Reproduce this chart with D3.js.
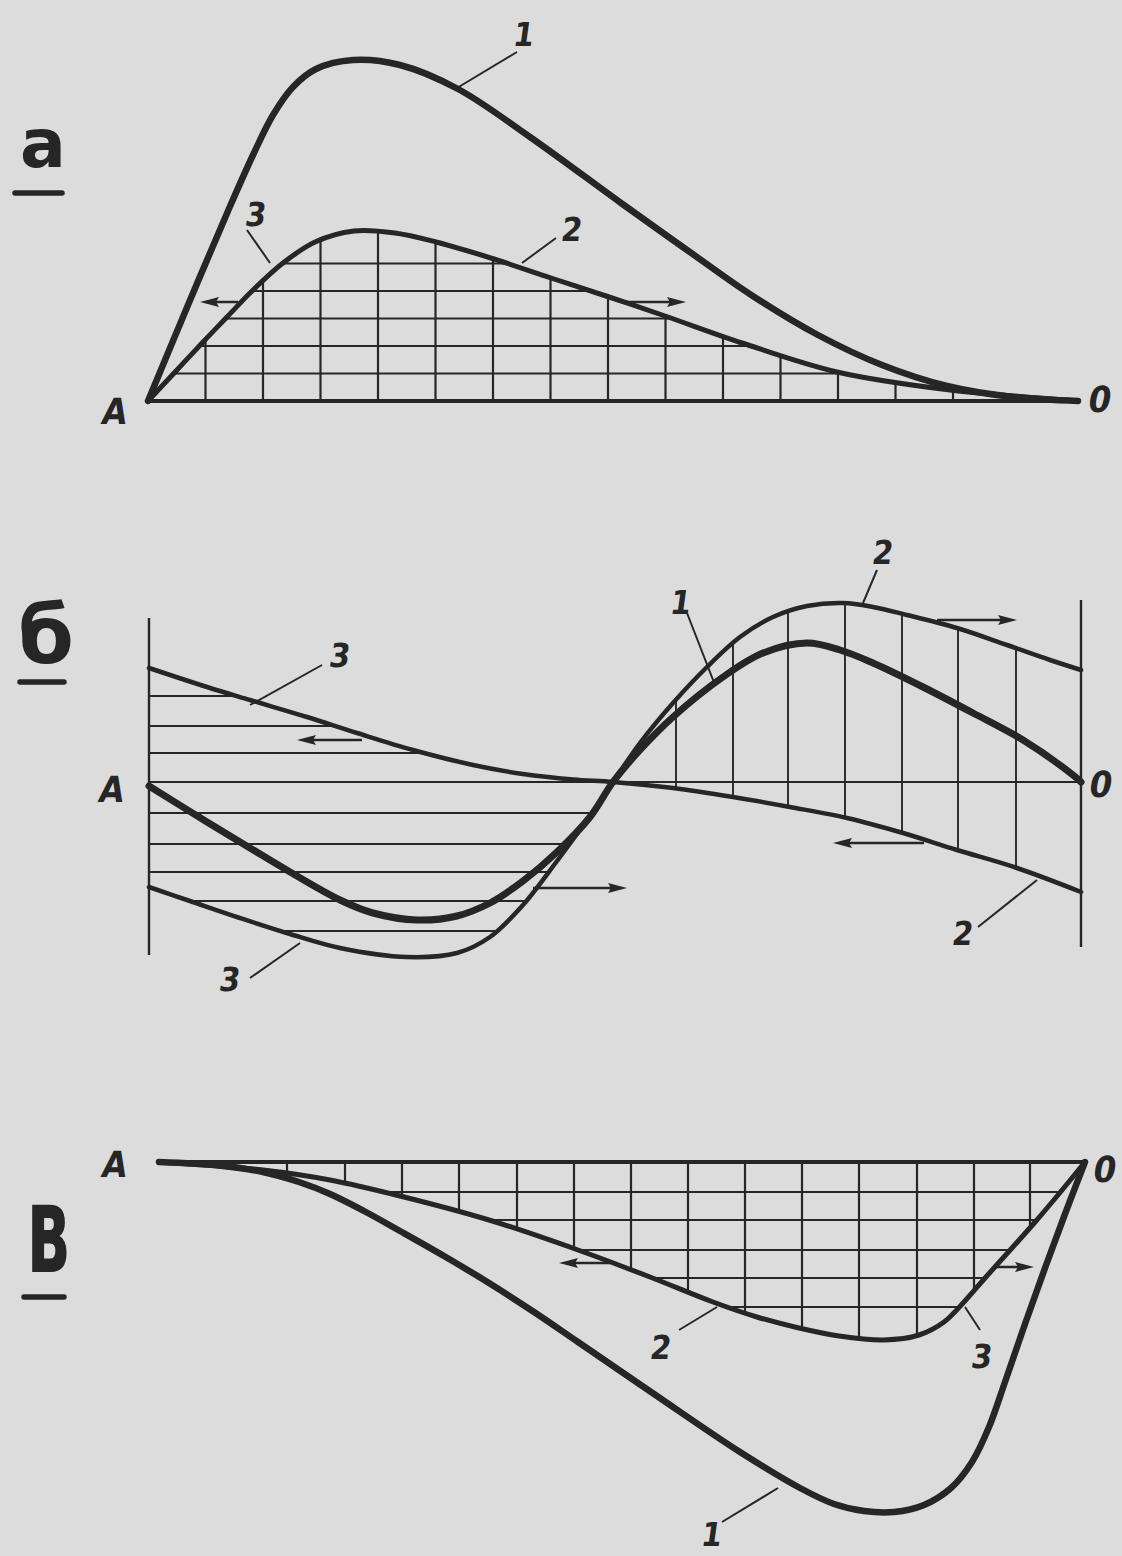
<!DOCTYPE html>
<html>
<head>
<meta charset="utf-8">
<script src="https://cdn.jsdelivr.net/npm/d3@7"></script>
<style>
  html, body { margin: 0; padding: 0; background: #dcdcdc; }
  svg { display: block; }
</style>
</head>
<body>
<div id="fig"></div>
<script>
// ---- panel а : curves as (x, y) in drawing units, A = 0, baseline = 0
const aCurve1 = [[0,0],[4,9.6],[8,19],[10.5,24.6],[12.5,28.6],[14.5,31.4],[16.8,33.2],[20.5,34.1],[25.2,33.6],
  [31.0,31.2],[38.2,26.4],[47.3,19.8],[53.9,15.1],[60.4,10.55],[66.9,6.65],[73.4,3.6],[79.9,1.5],[86.5,0.4],[93,0]];
const aCurve2 = [[0,0],[2.8,3.0],[5.6,6.0],[8.0,8.5],[10.3,10.9],[13.5,13.8],[16.7,15.9],[20.6,17.0],[24.7,16.8],
  [28.8,15.9],[34.6,14.2],[40.3,12.3],[46.1,10.4],[51.7,8.5],[59.4,5.8],[68.9,2.9],[80.2,1.1],[89.2,0.3],[93,0]];
const aGridX = [5.75,11.5,17.25,23.0,28.75,34.5,40.25,46.0,51.75,57.5,63.25,69.0,74.75,80.5];
const aGridY = [2.75,5.5,8.25,11.0,13.75];
const aArrows = [{y:9.9, from:9.0, to:5.2}, {y:9.9, from:47.7, to:53.8}];
const aLabels = [
  {t:"1", x:37.6, y:36.6, l:[36.9,34.9,30.9,31.3]},
  {t:"2", x:42.4, y:17.1, l:[40.8,16.3,37.4,13.8]},
  {t:"3", x:10.8, y:18.6, l:[9.9,17.1,12.2,13.8]}
];

// ---- panel б
const bCurveD = [[0,11.4],[5.8,9.5],[10.1,8.2],[15.8,6.5],[20.8,4.9],[26.4,3.2],[32.4,1.7],[37.4,0.8],[42.4,0.25],[46.4,0],
  [52.4,-0.6],[58.4,-1.5],[64.1,-2.5],[69.8,-3.6],[75.4,-5.1],[80.8,-6.8],[86.8,-8.6],[93.2,-11.0]];
const bCurveE = [[0,-10.5],[4.1,-11.9],[9.1,-13.6],[14.1,-15.2],[19.1,-16.6],[25.8,-17.5],[30.8,-17.1],[34.1,-15.5],
  [37.4,-12.3],[40.8,-7.9],[43.8,-3.8],[46.4,0],[49.1,3.9],[52.4,7.9],[55.8,11.5],[59.1,14.5],[62.4,16.5],[65.8,17.6],
  [69.4,17.9],[72.4,17.5],[75.8,16.7],[80.8,15.4],[85.8,13.7],[90.1,12.2],[93.2,11.2]];
const bCurve1 = [[0,-0.4],[5.8,-4.0],[10.1,-6.6],[14.1,-9.0],[19.1,-11.8],[22.4,-13.1],[26.8,-13.8],[30.8,-13.4],
  [34.1,-12.1],[37.4,-9.9],[40.8,-7.0],[44.1,-3.5],[46.4,0],[49.1,3.2],[52.4,6.5],[57.4,10.5],[61.4,12.9],[65.8,13.9],
  [69.1,13.2],[72.4,11.9],[77.4,9.5],[82.4,6.9],[87.4,4.2],[92.4,0.7],[93.2,0]];
const bCross = 46.4;
const bGridY = [8.6,5.6,2.9,-3.1,-6.2,-9.0,-11.9,-14.9];
const bGridX = [52.7,58.4,63.9,69.6,75.3,80.9,86.7];
const bWallL = [16.4,-17.3];
const bWallR = [18.2,-16.5];
const bArrows = [{y:4.2, from:21.3, to:14.8}, {y:-10.6, from:38.4, to:47.8},
  {y:16.2, from:78.8, to:86.8}, {y:-6.1, from:77.5, to:68.4}];
const bLabels = [
  {t:"1", x:53.2, y:17.9, l:[53.8,16.9,56.6,9.7]},
  {t:"2", x:73.4, y:22.9, l:[72.8,21.2,71.4,17.9]},
  {t:"3", x:19.1, y:12.6, l:[17.3,11.7,10.1,7.7]},
  {t:"3", x:8.1, y:-19.8, l:[10.1,-19.6,15.1,-16.1]},
  {t:"2", x:81.4, y:-15.2, l:[82.9,-14.5,88.8,-9.8]}
];

// ---- panel в
const cCurve1 = [[0,0],[6,-0.35],[10.4,-1.0],[14,-2.0],[17.1,-3.2],[20.5,-4.9],[24.1,-6.9],[28.5,-9.4],[33.0,-12.1],
  [37.5,-15.0],[41.9,-18.0],[49.5,-23.2],[58.1,-29.0],[64.1,-32.6],[67.5,-34.2],[70.5,-34.9],[73.5,-35.0],[76.5,-34.3],
  [79.2,-32.6],[81.3,-30.0],[83.0,-26.5],[84.6,-22.0],[86.6,-16.2],[88.6,-10.6],[90.6,-5.2],[92.6,0]];
const cCurve2 = [[0,0],[10.4,-0.8],[17.1,-1.8],[24.1,-3.4],[33.0,-5.8],[41.9,-8.8],[49.1,-11.5],[55.4,-14.0],
  [59.8,-15.5],[64,-16.6],[68,-17.4],[72.5,-17.8],[76,-17.3],[78.5,-16.0],[80.5,-14.0],[82.6,-11.6],[85.3,-8.6],
  [87.7,-5.9],[89.9,-3.3],[92.6,0]];
const cGridX = [7.1,12.8,18.6,24.3,30.0,35.8,41.5,47.2,52.9,58.6,64.3,70.0,75.8,81.5,87.1];
const cGridY = [-3.0,-5.8,-8.8,-11.6,-14.5];
const cArrows = [{y:-10.1, from:45.1, to:40.0}, {y:-10.5, from:83.6, to:87.5}];
const cLabels = [
  {t:"2", x:50.2, y:-18.6, l:[52.0,-16.8,55.8,-14.5]},
  {t:"3", x:82.3, y:-19.5, l:[82.1,-16.8,80.6,-14.5]},
  {t:"1", x:55.3, y:-37.3, l:[56.3,-36.0,61.9,-32.6]}
];

const ink = "#262626";
const W = 1122, H = 1556;

const svg = d3.select("#fig").append("svg").attr("width", W).attr("height", H);
const defs = svg.append("defs");
svg.append("rect").attr("width", W).attr("height", H).attr("fill", "#dcdcdc");

function sample(node, step) {
  const L = node.getTotalLength(), pts = [];
  for (let s = 0; s <= L; s += step) { const p = node.getPointAtLength(s); pts.push([p.x, p.y]); }
  const p = node.getPointAtLength(L); pts.push([p.x, p.y]);
  return pts;
}
function poly(pts) { return "M" + pts.map(p => p[0].toFixed(1) + "," + p[1].toFixed(1)).join("L") + "Z"; }

function makeLine(x, y) {
  return d3.line().x(d => x(d[0])).y(d => y(d[1])).curve(d3.curveCatmullRom.alpha(0.5));
}

function curve(g, line, data, w) {
  return g.append("path").attr("d", line(data)).attr("fill", "none").attr("stroke", ink)
    .attr("stroke-width", w).attr("stroke-linecap", "round").attr("stroke-linejoin", "round").node();
}

function arrows(g, x, y, list) {
  list.forEach(a => {
    const x1 = x(a.from), x2 = x(a.to), yy = y(a.y), dir = x2 > x1 ? 1 : -1;
    g.append("line").attr("x1", x1).attr("x2", x2 - dir * 8).attr("y1", yy).attr("y2", yy)
      .attr("stroke", ink).attr("stroke-width", 2.5);
    g.append("path")
      .attr("d", `M${x2},${yy}L${x2 - dir * 19},${yy - 5}L${x2 - dir * 16},${yy}L${x2 - dir * 19},${yy + 5}Z`)
      .attr("fill", ink);
  });
}

function labels(g, x, y, list) {
  list.forEach(d => {
    g.append("line").attr("x1", x(d.l[0])).attr("y1", y(d.l[1])).attr("x2", x(d.l[2])).attr("y2", y(d.l[3]))
      .attr("stroke", ink).attr("stroke-width", 2);
    g.append("text").attr("transform", `translate(${x(d.x)},${y(d.y)}) skewX(-8)`)
      .attr("text-anchor", "middle").attr("dominant-baseline", "central")
      .attr("font-family", "DejaVu Sans Condensed").attr("font-weight", "bold").attr("font-size", 33)
      .attr("fill", ink).text(d.t);
  });
}

function endLabel(g, px, py, t) {
  g.append("text").attr("transform", `translate(${px},${py}) skewX(-10)`)
    .attr("text-anchor", "middle").attr("dominant-baseline", "central")
    .attr("font-family", "DejaVu Sans Condensed").attr("font-weight", "bold").attr("font-size", 36)
    .attr("fill", ink).text(t);
}

function panelLetter(px, py, t, size, sy, ux1, ux2, uy) {
  svg.append("text").attr("transform", `translate(${px},${py}) scale(1,${sy})`)
    .attr("text-anchor", "middle").attr("font-family", "DejaVu Sans").attr("font-weight", "bold")
    .attr("font-size", size).attr("fill", ink).text(t);
  svg.append("line").attr("x1", ux1).attr("x2", ux2).attr("y1", uy).attr("y2", uy)
    .attr("stroke", ink).attr("stroke-width", 5.5).attr("stroke-linecap", "round");
}

// ================= panel а
{
  const x = d3.scaleLinear().domain([0, 93]).range([148, 1078]);
  const y = d3.scaleLinear().domain([0, 34]).range([401, 61]);
  const line = makeLine(x, y);
  const gGrid = svg.append("g"), g = svg.append("g");

  const c2 = curve(g, line, aCurve2, 5);
  curve(g, line, aCurve1, 6.5);
  g.append("line").attr("x1", x(0)).attr("x2", x(93)).attr("y1", y(0)).attr("y2", y(0))
    .attr("stroke", ink).attr("stroke-width", 4).attr("stroke-linecap", "round");

  defs.append("clipPath").attr("id", "clipA").append("path").attr("d", poly(sample(c2, 2)));
  const gc = gGrid.attr("clip-path", "url(#clipA)");
  gc.selectAll(".vx").data(aGridX).join("line").attr("class", "vx")
    .attr("x1", d => x(d)).attr("x2", d => x(d)).attr("y1", y(0)).attr("y2", y(34))
    .attr("stroke", ink).attr("stroke-width", 2.2);
  gc.selectAll(".hy").data(aGridY).join("line").attr("class", "hy")
    .attr("y1", d => y(d)).attr("y2", d => y(d)).attr("x1", x(0)).attr("x2", x(93))
    .attr("stroke", ink).attr("stroke-width", 2.2);

  arrows(g, x, y, aArrows);
  labels(g, x, y, aLabels);
  endLabel(g, x(-3.3), y(-1.1), "A");
  endLabel(g, x(95.2), y(0.1), "0");
  panelLetter(43, 167, "а", 68, 1, 15, 62, 193);
}

// ================= panel б
{
  const x = d3.scaleLinear().domain([0, 93.2]).range([149, 1081]);
  const y = d3.scaleLinear().domain([-20, 20]).range([982, 582]);
  const line = makeLine(x, y);
  const gL = svg.append("g"), gR = svg.append("g"), g = svg.append("g");

  const d = curve(g, line, bCurveD, 4.5);
  const e = curve(g, line, bCurveE, 4.5);
  curve(g, line, bCurve1, 7);

  g.append("line").attr("x1", x(0)).attr("x2", x(93.2)).attr("y1", y(0)).attr("y2", y(0))
    .attr("stroke", ink).attr("stroke-width", 2.2);
  g.append("line").attr("x1", x(0)).attr("x2", x(0)).attr("y1", y(bWallL[0])).attr("y2", y(bWallL[1]))
    .attr("stroke", ink).attr("stroke-width", 2.4);
  g.append("line").attr("x1", x(93.2)).attr("x2", x(93.2)).attr("y1", y(bWallR[0])).attr("y2", y(bWallR[1]))
    .attr("stroke", ink).attr("stroke-width", 2.4);

  const cx = x(bCross);
  const dPts = sample(d, 2), ePts = sample(e, 2);
  const left = dPts.filter(p => p[0] <= cx).concat(ePts.filter(p => p[0] <= cx).reverse());
  const right = ePts.filter(p => p[0] >= cx).concat(dPts.filter(p => p[0] >= cx).reverse());
  defs.append("clipPath").attr("id", "clipBL").append("path").attr("d", poly(left));
  defs.append("clipPath").attr("id", "clipBR").append("path").attr("d", poly(right));

  gL.attr("clip-path", "url(#clipBL)").selectAll("line").data(bGridY).join("line")
    .attr("y1", v => y(v)).attr("y2", v => y(v)).attr("x1", x(0)).attr("x2", x(93.2))
    .attr("stroke", ink).attr("stroke-width", 2.1);
  gR.attr("clip-path", "url(#clipBR)").selectAll("line").data(bGridX).join("line")
    .attr("x1", v => x(v)).attr("x2", v => x(v)).attr("y1", y(20)).attr("y2", y(-20))
    .attr("stroke", ink).attr("stroke-width", 1.9);

  arrows(g, x, y, bArrows);
  labels(g, x, y, bLabels);
  endLabel(g, x(-3.7), y(-0.8), "A");
  endLabel(g, x(95.2), y(-0.3), "0");
  panelLetter(46, 663, "б", 80, 1, 20, 64, 682);
}

// ================= panel в
{
  const x = d3.scaleLinear().domain([0, 92.6]).range([159, 1085]);
  const y = d3.scaleLinear().domain([-40, 0]).range([1562, 1162]);
  const line = makeLine(x, y);
  const gGrid = svg.append("g"), g = svg.append("g");

  const c2 = curve(g, line, cCurve2, 5);
  curve(g, line, cCurve1, 6.5);
  g.append("line").attr("x1", x(0)).attr("x2", x(92.6)).attr("y1", y(0)).attr("y2", y(0))
    .attr("stroke", ink).attr("stroke-width", 4).attr("stroke-linecap", "round");

  defs.append("clipPath").attr("id", "clipC").append("path").attr("d", poly(sample(c2, 2)));
  const gc = gGrid.attr("clip-path", "url(#clipC)");
  gc.selectAll(".vx").data(cGridX).join("line").attr("class", "vx")
    .attr("x1", v => x(v)).attr("x2", v => x(v)).attr("y1", y(0)).attr("y2", y(-40))
    .attr("stroke", ink).attr("stroke-width", 2.2);
  gc.selectAll(".hy").data(cGridY).join("line").attr("class", "hy")
    .attr("y1", v => y(v)).attr("y2", v => y(v)).attr("x1", x(0)).attr("x2", x(92.6))
    .attr("stroke", ink).attr("stroke-width", 2.2);

  arrows(g, x, y, cArrows);
  labels(g, x, y, cLabels);
  endLabel(g, x(-4.4), y(-0.3), "A");
  endLabel(g, x(94.6), y(-0.8), "0");
  panelLetter(48, 1272, "в", 68, 1.8, 24, 64, 1297);
}
</script>
</body>
</html>
